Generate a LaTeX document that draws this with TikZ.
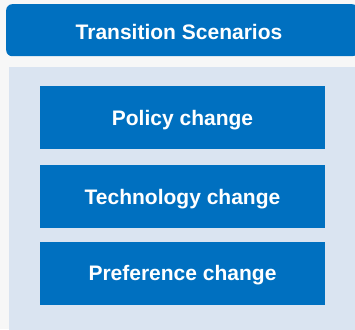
\documentclass[tikz,border=0pt]{standalone}
\usepackage{fontspec}
\setmainfont{Liberation Sans}
\definecolor{bgc}{HTML}{F7F7F7}
\definecolor{blu}{HTML}{0070C0}
\definecolor{pan}{HTML}{DAE4F1}
\tikzset{lbl/.style={text=white,font=\fontsize{21}{24}\selectfont\bfseries}}
\begin{document}
\begin{tikzpicture}[x=1pt,y=-1pt,
  item/.style={fill=blu,draw=none,minimum width=285pt,minimum height=63pt,inner sep=0pt,lbl}]
\useasboundingbox (0,0) rectangle (355,329);
\fill[bgc] (0,0) rectangle (355,329);
\fill[pan] (9,67) rectangle (356,330);
\node[fill=blu,rounded corners=6pt,minimum width=352pt,minimum height=52pt,inner sep=0pt,anchor=north west] (hdr) at (6,4) {};
\node[lbl] (title) at (179,32) {Transition Scenarios};
\node[fill=blu,minimum width=285pt,minimum height=63pt,inner sep=0pt] (p) at (182.5,117.5) {};
\node[fill=blu,minimum width=285pt,minimum height=63pt,inner sep=0pt] (t) at (182.5,196.5) {};
\node[fill=blu,minimum width=285pt,minimum height=63pt,inner sep=0pt] (r) at (182.5,273) {};
\node[lbl] (pl) at (182.5,120) {Policy change};
\node[lbl] (tl) at (182.5,199) {Technology change};
\node[lbl] (rl) at (182.5,275.5) {Preference change};
\end{tikzpicture}
\end{document}
